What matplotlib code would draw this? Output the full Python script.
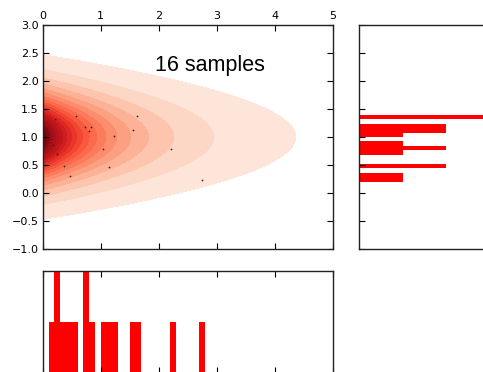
import numpy as np
import matplotlib
matplotlib.use("Agg")
import matplotlib.pyplot as plt
from matplotlib.colors import FuncNorm

# ---- data ----
x_samples = [0.21, 0.57, 0.73, 0.83, 0.79, 1.23, 1.55, 1.62,
             0.17, 0.24, 1.04, 2.21, 0.37, 1.15, 0.47, 2.74]
y_samples = [1.33, 1.38, 1.18, 1.18, 1.10, 1.02, 1.12, 1.38,
             0.86, 0.70, 0.78, 0.78, 0.48, 0.46, 0.30, 0.23]
label_text = "16 samples"
xticks = [0, 1, 2, 3, 4, 5]
yticks = [-1.0, -0.5, 0.0, 0.5, 1.0, 1.5, 2.0, 2.5, 3.0]
n_bins = 50

# density model parameters (background contour field)
dens_b = 2.5
dens_c = 1.24
dens_p = 3.0
dens_mu = 1.0
level_step = 0.0484
n_levels = 20
color_boost = 0.35

plt.rcParams['font.family'] = ['DejaVu Sans']
plt.rcParams['axes.unicode_minus'] = True

fig = plt.figure(figsize=(4.83, 3.72), dpi=100)
W, H = 483.0, 372.0

def rect(x0, y0, x1, y1):
    return [x0 / W, (H - y1) / H, (x1 - x0) / W, (y1 - y0) / H]

ax = fig.add_axes(rect(42.7, 25, 333, 249))
axr = fig.add_axes(rect(359, 25, 490, 249))
axb = fig.add_axes(rect(42.7, 271, 333, 373))

# ---- main panel ----
xg = np.linspace(0, 5, 400)
yg = np.linspace(-1, 3, 401)
X, Y = np.meshgrid(xg, yg)
Z = (1 + X / dens_b + (Y - dens_mu) ** 2 / dens_c) ** (-dens_p)
levels = list(level_step * np.arange(1, n_levels + 1)) + [1.0]

a_ = color_boost

def _fwd(v):
    v = np.clip(np.asarray(v, dtype=float), 0, 1)
    return (1 + a_) * v - a_ * v ** 2

def _inv(u):
    u = np.clip(np.asarray(u, dtype=float), 0, 1)
    return ((1 + a_) - np.sqrt((1 + a_) ** 2 - 4 * a_ * u)) / (2 * a_)

norm = FuncNorm((_fwd, _inv), vmin=0, vmax=1)
ax.contourf(X, Y, Z, levels=levels, cmap='Reds', norm=norm)
ax.scatter(x_samples, y_samples, s=1.6, color='#3a2020', zorder=3, linewidths=0)
ax.text(1.93, 2.18, label_text, fontsize=15.5, family=['Liberation Sans', 'DejaVu Sans'],
        ha='left', va='baseline', color='black')
ax.set_xlim(0, 5)
ax.set_ylim(-1, 3)
ax.set_xticks(xticks)
ax.set_yticks(yticks)
ax.set_yticklabels([f"{v:.1f}".replace('-', '\u2212') for v in yticks])
ax.xaxis.tick_top()
ax.tick_params(axis='both', which='both', direction='in', length=4, width=0.8,
               labelsize=8, top=True, bottom=True, left=True, right=True,
               labeltop=True, labelbottom=False, pad=3)

# ---- right marginal ----
ybins = np.linspace(-1, 3, n_bins + 1)
axr.hist(y_samples, bins=ybins, orientation='horizontal', color='#ff0000',
         histtype='bar', rwidth=1.0, linewidth=0)
axr.set_ylim(-1, 3)
axr.set_xlim(0, 3)
axr.set_yticks(yticks)
axr.set_xticks([])
axr.tick_params(axis='y', direction='in', length=4, width=0.8, labelleft=False,
                left=True, right=True)

# ---- bottom marginal ----
xbins = np.linspace(0, 5, n_bins + 1)
axb.hist(x_samples, bins=xbins, color='#ff0000', histtype='bar', rwidth=1.0, linewidth=0)
axb.set_xlim(0, 5)
axb.set_ylim(0, 2)
axb.set_xticks(xticks)
axb.set_yticks([])
axb.tick_params(axis='x', direction='in', length=4, width=0.8, labelbottom=False,
                top=True, bottom=True)

for a in (ax, axr, axb):
    for s in a.spines.values():
        s.set_linewidth(1.0)
        s.set_color('#222222')

fig.savefig('out.png', dpi=100)
